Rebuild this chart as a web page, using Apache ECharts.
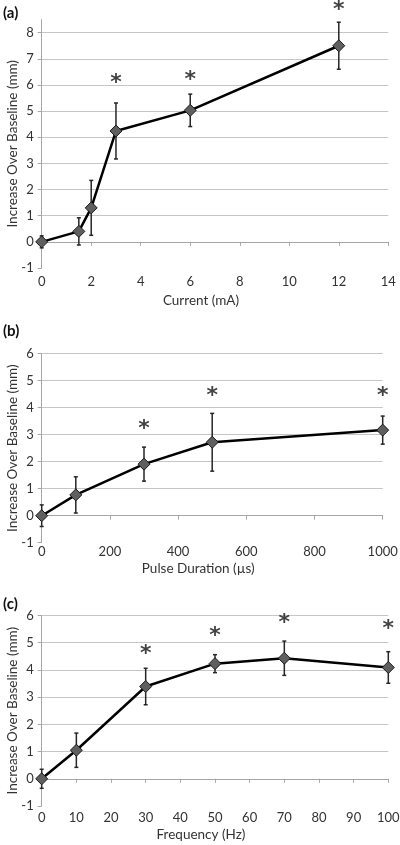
<!DOCTYPE html>
<html><head><meta charset="utf-8">
<script src="https://cdn.jsdelivr.net/npm/echarts@6/dist/echarts.min.js"></script>
<style>html,body{margin:0;padding:0;background:#fff}#c{width:400px;height:845px}</style>
</head><body><div id="c"></div>
<script>
// Panel (a): Current
var aX = [0, 1.5, 2, 3, 6, 12];
var aY = [0, 0.4, 1.3, 4.24, 5.03, 7.5];
var aErr = [0.23, 0.52, 1.05, 1.07, 0.62, 0.9];
var aStar = [null, null, null, 6.28, 6.42, 9.07];
// Panel (b): Pulse duration
var bX = [0, 100, 300, 500, 1000];
var bY = [0, 0.77, 1.91, 2.72, 3.17];
var bErr = [0.4, 0.67, 0.63, 1.07, 0.52];
var bStar = [null, null, 3.42, 4.65, 4.65];
// Panel (c): Frequency
var cX = [0, 10, 30, 50, 70, 100];
var cY = [0, 1.05, 3.39, 4.23, 4.43, 4.09];
var cErr = [0.35, 0.63, 0.67, 0.33, 0.63, 0.58];
var cStar = [null, null, 4.8, 5.47, 5.94, 5.72];

var panelLabels = ['(a)', '(b)', '(c)'];
var xNames = ['Current (mA)', 'Pulse Duration (\u00b5s)', 'Frequency (Hz)'];
var yName = 'Increase Over Baseline (mm)';

var FONT = 'Lato';
var TXT = '#333333';
var panels = [
  {x: aX, y: aY, e: aErr, s: aStar, xmin: 0, xmax: 14, xint: 2, ymin: -1, ymax: 8.5,
   top: 19.6, h: 248.4, w: 346.6, lm: 7, ng: 26},
  {x: bX, y: bY, e: bErr, s: bStar, xmin: 0, xmax: 1000, xint: 200, ymin: -1, ymax: 6,
   top: 353.7, h: 189, w: 341, lm: 3, ng: 19},
  {x: cX, y: cY, e: cErr, s: cStar, xmin: 0, xmax: 100, xint: 10, ymin: -1, ymax: 6,
   top: 615.5, h: 190.5, w: 346.6, lm: 5, ng: 22}
];

var grids = [], xAxes = [], yAxes = [], series = [];
panels.forEach(function (p, i) {
  grids.push({left: 41.7, width: p.w, top: p.top, height: p.h, containLabel: false, outerBoundsMode: 'none'});
  xAxes.push({type: 'value', gridIndex: i, min: p.xmin, max: p.xmax, interval: p.xint, position: 'bottom',
    axisLine: {onZero: true, lineStyle: {color: '#a6a6a6', width: 1}},
    axisTick: {show: true, inside: false, length: 4, lineStyle: {color: '#a6a6a6'}},
    axisLabel: {show: false}, splitLine: {show: false}});
  xAxes.push({type: 'value', gridIndex: i, min: p.xmin, max: p.xmax, interval: p.xint, position: 'bottom',
    axisLine: {show: false, onZero: false}, axisTick: {show: false}, splitLine: {show: false},
    axisLabel: {show: true, color: TXT, fontFamily: FONT, fontSize: 13, margin: p.lm,
      formatter: function (v) { return String(v); }},
    name: xNames[i], nameLocation: 'middle', nameGap: p.ng, nameMoveOverlap: false,
    nameTextStyle: {color: TXT, fontFamily: FONT, fontSize: 13.5, padding: [0, 28, 0, 0]}});
  yAxes.push({type: 'value', gridIndex: i, min: p.ymin, max: p.ymax, interval: 1,
    axisLine: {show: true, lineStyle: {color: '#a6a6a6', width: 1}},
    axisTick: {show: true, length: 4, lineStyle: {color: '#a6a6a6'}},
    axisLabel: {color: TXT, fontFamily: FONT, fontSize: 13, margin: 8, showMaxLabel: p.ymax % 1 === 0},
    splitLine: {show: true, showMinLine: false, showMaxLine: p.ymax % 1 === 0, lineStyle: {color: '#c6c6c6', width: 1}},
    name: yName, nameLocation: 'middle', nameGap: 22, nameMoveOverlap: false,
    nameTextStyle: {color: TXT, fontFamily: FONT, fontSize: 13.5}});

  var pts = p.x.map(function (v, k) { return [v, p.y[k]]; });
  var errs = p.x.map(function (v, k) { return [v, p.y[k] - p.e[k], p.y[k] + p.e[k]]; });
  var stars = [];
  p.x.forEach(function (v, k) { if (p.s[k] != null) stars.push([v, p.s[k]]); });

  series.push({type: 'custom', xAxisIndex: 2 * i, yAxisIndex: i, data: errs, z: 3, clip: false,
    renderItem: function (params, api) {
      var xv = api.value(0), lo = api.value(1), hi = api.value(2);
      var t = api.coord([xv, hi]), b = api.coord([xv, lo]);
      var st = {stroke: '#262626', lineWidth: 1.5};
      return {type: 'group', children: [
        {type: 'line', shape: {x1: t[0], y1: t[1], x2: b[0], y2: b[1]}, style: st},
        {type: 'line', shape: {x1: t[0] - 2, y1: t[1], x2: t[0] + 2, y2: t[1]}, style: st},
        {type: 'line', shape: {x1: b[0] - 2, y1: b[1], x2: b[0] + 2, y2: b[1]}, style: st}
      ]};
    }});
  series.push({type: 'line', xAxisIndex: 2 * i, yAxisIndex: i, data: pts, z: 4,
    symbol: 'diamond', symbolSize: 12, showSymbol: true,
    lineStyle: {color: '#000', width: 2.5},
    itemStyle: {color: '#5f5f5f', borderColor: '#1a1a1a', borderWidth: 1},
    emphasis: {disabled: true}});
  series.push({type: 'scatter', xAxisIndex: 2 * i, yAxisIndex: i, data: stars, z: 5, clip: false,
    symbol: 'circle', symbolSize: 1, itemStyle: {color: 'rgba(0,0,0,0)'},
    label: {show: true, formatter: '*', position: 'inside', offset: [0, 6],
      color: '#111', fontFamily: 'DejaVu Sans', fontSize: 22, fontWeight: 'bold'}});
});

var graphics = [
  {type: 'text', left: 3, top: 6, style: {text: panelLabels[0], fill: '#111', font: 'bold 15px ' + FONT}},
  {type: 'text', left: 3, top: 324, style: {text: panelLabels[1], fill: '#111', font: 'bold 15px ' + FONT}},
  {type: 'text', left: 3, top: 597, style: {text: panelLabels[2], fill: '#111', font: 'bold 15px ' + FONT}}
];

var chart = echarts.init(document.getElementById('c'), null, {renderer: 'canvas'});
chart.setOption({animation: false, grid: grids, xAxis: xAxes, yAxis: yAxes, series: series, graphic: graphics});
</script></body></html>
